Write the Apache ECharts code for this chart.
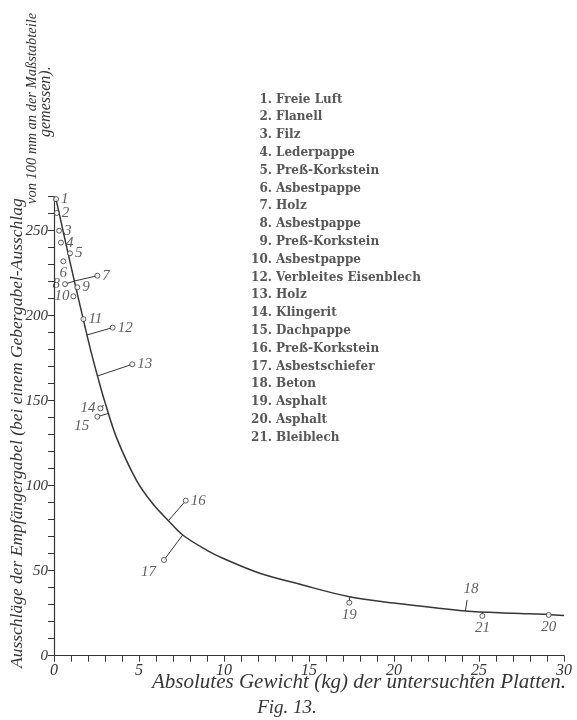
<!DOCTYPE html>
<html>
<head>
<meta charset="utf-8">
<script src="https://cdn.jsdelivr.net/npm/echarts@6/dist/echarts.min.js"></script>
<style>
  html, body { margin: 0; padding: 0; background: #ffffff; }
  #chart { width: 577px; height: 720px; }
</style>
</head>
<body>
<div id="chart"></div>
<script>
// Response curve: deflection of the receiving fork vs. plate weight
const curveX = [0.12, 1.0, 1.73, 2.2, 2.6, 3.0, 3.69, 4.86, 5.8, 6.73, 7.57, 9, 10, 12.1, 14.47, 17.37, 20, 24.2, 27, 29.1, 30];
const curveY = [268.6, 229, 197.5, 178, 163, 149, 128, 103, 89.5, 79.4, 71, 62, 57, 48.5, 42, 34.7, 31, 26.3, 25, 24.3, 23.6];

// Measured plates (number, weight in kg, deflection)
const pointIds = ['1', '2', '3', '4', '5', '6', '7', '8', '9', '10', '11', '12', '13', '14', '15', '16', '17', '18', '19', '20', '21'];
const pointX = [0.12, 0.16, 0.3, 0.41, 0.94, 0.55, 2.55, 0.65, 1.37, 1.14, 1.73, 3.45, 4.6, 2.73, 2.55, 7.75, 6.47, 24.3, 17.37, 29.1, 25.2];
const pointY = [268.6, 260.4, 250, 243, 236.7, 232, 223.5, 218.6, 216.7, 211.4, 198, 193, 171.4, 145.5, 140.6, 91.2, 56.3, 32.8, 31.2, 24, 23.4];

// Where a point's leader line meets the curve (null: no leader)
const anchorX = [null, null, null, null, null, null, 1.24, 1.24, null, null, null, 1.92, 2.55, 2.92, 3.2, 6.73, 7.57, 24.2, 17.4, null, 25.2];
const anchorY = [null, null, null, null, null, null, 220.5, 220.5, null, null, null, 188.6, 164.5, 147.5, 142.5, 79.4, 71, 26.3, 34.6, null, 25.7];

// Key of the plate materials
const legendNums = ['1.', '2.', '3.', '4.', '5.', '6.', '7.', '8.', '9.', '10.', '12.', '13.', '14.', '15.', '16.', '17.', '18.', '19.', '20.', '21.'];
const legendNames = ['Freie Luft', 'Flanell', 'Filz', 'Lederpappe', 'Preß-Korkstein', 'Asbestpappe', 'Holz', 'Asbestpappe', 'Preß-Korkstein', 'Asbestpappe', 'Verbleites Eisenblech', 'Holz', 'Klingerit', 'Dachpappe', 'Preß-Korkstein', 'Asbestschiefer', 'Beton', 'Asphalt', 'Asphalt', 'Bleiblech'];

// Axis tick labels
const xTickLabels = ['0', '5', '10', '15', '20', '25', '30'];
const yTickLabels = ['0', '50', '100', '150', '200', '250'];

// Axis and figure captions
const yTitleMain = 'Ausschläge der Empfängergabel (bei einem Gebergabel-Ausschlag';
const yTitleCont = 'von 100 mm an der Maßstabteile';
const yTitleEnd = 'gemessen).';
const xTitle = 'Absolutes Gewicht (kg) der untersuchten Platten.';
const figCaption = 'Fig. 13.';

const INK = '#363636';
const HAND_FAMILY = '"Liberation Serif"';
const KEY_FONT = 'bold 12px "DejaVu Serif"';
const KEY_INK = '#575757';

// label placement beside each point marker
const labelPlace = {
  '6': { position: 'bottom', distance: 1 },
  '8': { position: 'left', distance: 2 },
  '10': { position: 'left', distance: 1 },
  '14': { position: 'left', distance: 2 },
  '15': { position: 'left', offset: [0, 9] },
  '17': { position: 'left', offset: [0, 12] },
  '18': { position: 'top', offset: [4, 2] },
  '19': { position: 'bottom', distance: 2 },
  '20': { position: 'bottom', distance: 2 },
  '21': { position: 'bottom', distance: 2 }
};

const pointData = pointIds.map((id, i) => {
  const place = labelPlace[id] || { position: 'right', distance: 2 };
  return {
    name: id,
    value: [pointX[i], pointY[i]],
    symbolSize: id === '18' ? 0 : 5,
    label: Object.assign({}, place)
  };
});

const leaderData = [];
pointIds.forEach((id, i) => {
  if (anchorX[i] !== null) leaderData.push([pointX[i], pointY[i], anchorX[i], anchorY[i]]);
});

const legendGraphics = [];
legendNums.forEach((num, i) => {
  const y = 99.5 + i * 17.8;
  legendGraphics.push({
    type: 'text', x: 272, y: y,
    style: { text: num, fill: KEY_INK, font: KEY_FONT, textAlign: 'right', textVerticalAlign: 'middle' }
  });
  legendGraphics.push({
    type: 'text', x: 276, y: y,
    style: { text: legendNames[i], fill: KEY_INK, font: KEY_FONT, textAlign: 'left', textVerticalAlign: 'middle' }
  });
});

const chart = echarts.init(document.getElementById('chart'), null, { renderer: 'canvas' });

chart.setOption({
  backgroundColor: '#ffffff',
  animation: false,
  grid: { left: 54, right: 13, top: 196.7, bottom: 64.3, containLabel: false },
  xAxis: {
    type: 'value', min: 0, max: 30, interval: 1,
    axisLine: { show: true, lineStyle: { color: INK, width: 1.2 } },
    axisTick: { show: true, inside: false, length: 6, lineStyle: { color: INK, width: 1 } },
    axisLabel: {
      show: true, margin: 7, color: INK, fontFamily: HAND_FAMILY, fontStyle: 'italic', fontSize: 16,
      formatter: v => (xTickLabels.includes(String(v)) ? String(v) : '')
    },
    splitLine: { show: false }
  },
  yAxis: {
    type: 'value', min: 0, max: 270, interval: 10,
    axisLine: { show: true, lineStyle: { color: INK, width: 1.2 } },
    axisTick: { show: true, inside: false, length: 6, lineStyle: { color: INK, width: 1 } },
    axisLabel: {
      show: true, margin: 6, color: INK, fontFamily: HAND_FAMILY, fontStyle: 'italic', fontSize: 15,
      formatter: v => (yTickLabels.includes(String(v)) ? String(v) : '')
    },
    splitLine: { show: false }
  },
  series: [
    {
      type: 'line',
      data: curveX.map((x, i) => [x, curveY[i]]),
      smooth: 0.35,
      showSymbol: false,
      lineStyle: { color: INK, width: 1.5 },
      z: 2
    },
    {
      type: 'custom',
      data: leaderData,
      renderItem: (params, api) => {
        const p = api.coord([api.value(0), api.value(1)]);
        const a = api.coord([api.value(2), api.value(3)]);
        return {
          type: 'line',
          shape: { x1: p[0], y1: p[1], x2: a[0], y2: a[1] },
          style: { stroke: INK, lineWidth: 1 }
        };
      },
      z: 3
    },
    {
      type: 'scatter',
      data: pointData,
      symbol: 'circle',
      itemStyle: { color: '#ffffff', borderColor: INK, borderWidth: 1 },
      label: {
        show: true,
        formatter: p => p.name,
        color: INK,
        fontFamily: HAND_FAMILY,
        fontStyle: 'italic',
        fontSize: 15
      },
      z: 4
    }
  ],
  graphic: legendGraphics.concat([
    {
      type: 'text', x: 17, y: 668, rotation: Math.PI / 2,
      style: { text: yTitleMain, fill: INK, font: 'italic 17.5px ' + HAND_FAMILY, textAlign: 'left', textVerticalAlign: 'middle' }
    },
    {
      type: 'text', x: 32, y: 204, rotation: Math.PI / 2,
      style: { text: yTitleCont, fill: INK, font: 'italic 14.5px ' + HAND_FAMILY, textAlign: 'left', textVerticalAlign: 'middle' }
    },
    {
      type: 'text', x: 46, y: 137, rotation: Math.PI / 2,
      style: { text: yTitleEnd, fill: INK, font: 'italic 16px ' + HAND_FAMILY, textAlign: 'left', textVerticalAlign: 'middle' }
    },
    {
      type: 'text', x: 152, y: 682,
      style: { text: xTitle, fill: INK, font: 'italic 21px ' + HAND_FAMILY, textAlign: 'left', textVerticalAlign: 'middle' }
    },
    {
      type: 'text', x: 287, y: 708,
      style: { text: figCaption, fill: INK, font: 'italic 19px ' + HAND_FAMILY, textAlign: 'center', textVerticalAlign: 'middle' }
    }
  ])
});
</script>
</body>
</html>
